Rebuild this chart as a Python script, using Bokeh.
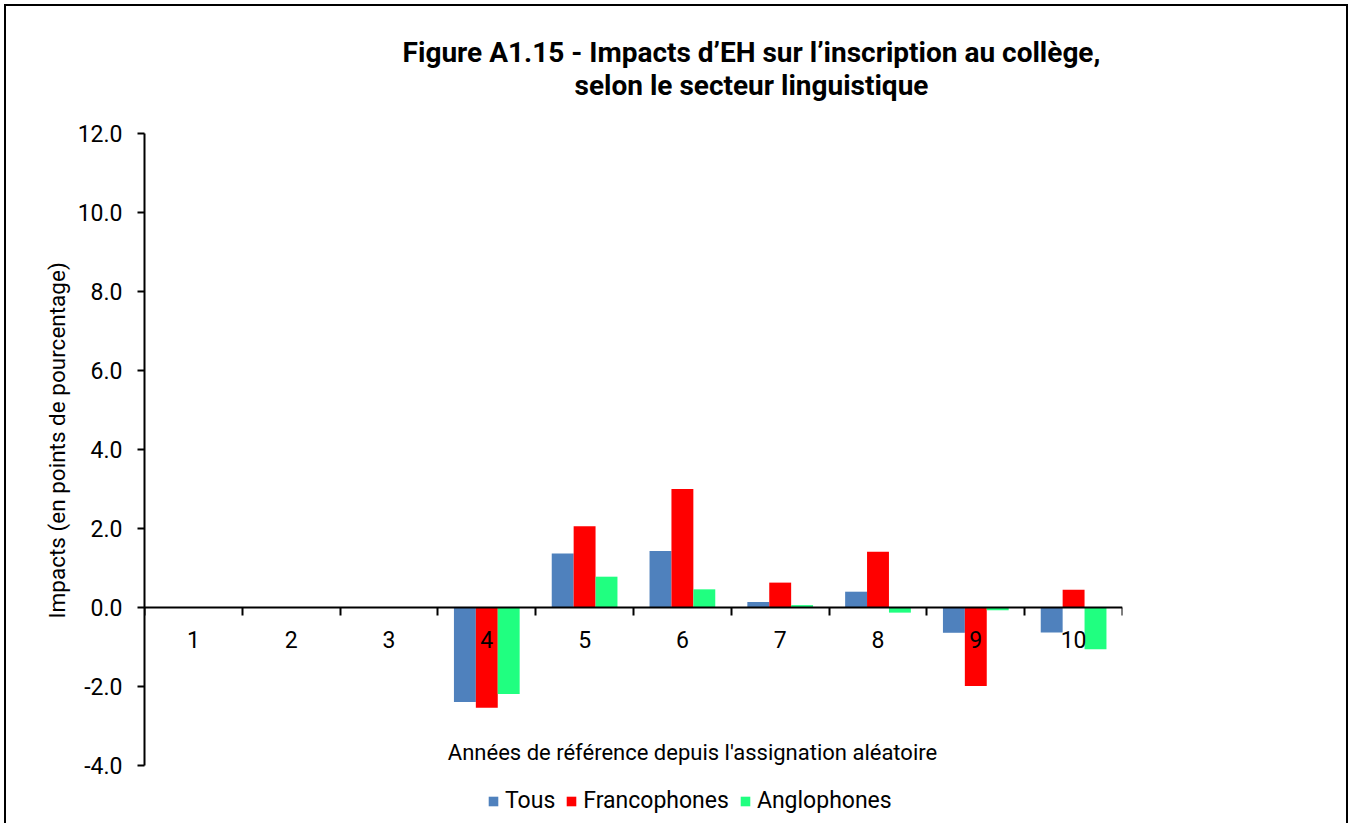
import numpy as np
from bokeh.plotting import figure
from bokeh.models import (Range1d, FixedTicker, Label, Legend, LegendItem, Title,
                          NumeralTickFormatter, ColumnDataSource)
from bokeh.transform import dodge
from bokeh.embed import file_html
from bokeh.resources import INLINE

# ---- data ----
years = [1, 2, 3, 4, 5, 6, 7, 8, 9, 10]
tous = [None, None, None, -2.39, 1.37, 1.43, 0.14, 0.40, -0.64, -0.63]
francophones = [None, None, None, -2.54, 2.06, 3.00, 0.63, 1.41, -1.99, 0.45]
anglophones = [None, None, None, -2.19, 0.78, 0.46, 0.06, -0.13, -0.07, -1.06]
series_names = ["Tous", "Francophones", "Anglophones"]
y_ticks = [-4, -2, 0, 2, 4, 6, 8, 10, 12]
y_min, y_max = -4, 12
title_lines = ["Figure A1.15 - Impacts d\u2019EH sur l\u2019inscription au coll\u00e8ge,",
               "selon le secteur linguistique"]
x_title = "Ann\u00e9es de r\u00e9f\u00e9rence depuis l'assignation al\u00e9atoire"
y_title = "Impacts (en points de pourcentage)"

# ---- style / layout ----
colors = ["#4F81BD", "#FF0000", "#20FF80"]
FONT = "Roboto"
W, H = 1344, 819
LEFT, TOP = 6, 6                 # page offset of the figure content
AX_TOP, AX_BOT = 133, 765        # page y of y_max / y_min
AX_LEFT, AX_RIGHT = 144, 1122    # page x of the category axis ends
ppu = (AX_BOT - AX_TOP) / (y_max - y_min)
y_hi = y_max + (AX_TOP - TOP) / ppu
y_lo = y_min - (TOP + H - AX_BOT) / ppu
FB = TOP + H                     # page y of frame bottom


def arr(v):
    return np.array([np.nan if x is None else x for x in v], dtype=float)


src = ColumnDataSource(dict(year=years, Tous=arr(tous),
                            Francophones=arr(francophones),
                            Anglophones=arr(anglophones)))

p = figure(width=W, height=H, x_range=Range1d(0.5, 10.5),
           y_range=Range1d(y_lo, y_hi), output_backend="svg", title=None,
           toolbar_location=None, min_border_left=AX_LEFT - LEFT, min_border_top=0,
           min_border_right=LEFT + W - AX_RIGHT, min_border_bottom=0,
           outline_line_color=None, background_fill_color="white",
           border_fill_color="white",
           styles={"border": "2px solid #000", "border-bottom": "none",
                   "margin-left": "4px", "margin-top": "4px"})

bw = 0.224
offsets = [-bw, 0.0, bw]
renderers = []
for name, col, off in zip(series_names, colors, offsets):
    r = p.vbar(x=dodge("year", off, range=p.x_range), top=name, bottom=0,
               width=bw, source=src, fill_color=col, line_color=None)
    renderers.append(r)

p.xgrid.visible = False
p.ygrid.visible = False

# y axis
ya = p.yaxis[0]
ya.bounds = (y_min, y_max)
ya.ticker = FixedTicker(ticks=y_ticks)
ya.formatter = NumeralTickFormatter(format="0.0")
ya.major_tick_in = 0
ya.major_tick_out = 7
ya.minor_tick_in = 0
ya.minor_tick_out = 0
ya.axis_line_width = 2
ya.major_tick_line_width = 2
ya.major_label_standoff = 15
ya.major_label_text_font = FONT
ya.major_label_text_font_size = "23px"
ya.major_label_text_color = "#000000"

# y axis title, placed along the axis extent (not the whole frame)
p.add_layout(Title(text=y_title, align="left", offset=FB - 618, standoff=10,
                   text_font=FONT, text_font_size="22.5px", text_font_style="normal",
                   text_color="#000000"), "left")

# x axis at zero
xa = p.xaxis[0]
xa.fixed_location = 0
xa.ticker = FixedTicker(ticks=years, minor_ticks=[y - 0.5 for y in years] + [years[-1] + 0.5])
xa.major_tick_in = 0
xa.major_tick_out = 0
xa.minor_tick_in = 0
xa.minor_tick_out = 8
xa.minor_tick_line_width = 2
xa.minor_tick_line_color = "#000000"
xa.axis_line_width = 2
xa.major_label_standoff = 15
xa.major_label_text_font = FONT
xa.major_label_text_font_size = "23px"
xa.major_label_text_color = "#000000"

# titles
for txt, py in zip(title_lines, [52, 85]):
    p.add_layout(Label(x=751 - AX_LEFT, y=FB - py, x_units="screen", y_units="screen",
                       text=txt, text_align="center", text_baseline="middle",
                       text_font=FONT, text_font_size="28px", text_font_style="bold",
                       text_color="#000000"))
p.add_layout(Label(x=692 - AX_LEFT, y=FB - 752, x_units="screen", y_units="screen",
                   text=x_title, text_align="center", text_baseline="middle",
                   text_font=FONT, text_font_size="22px", text_color="#000000"))

legend = Legend(items=[LegendItem(label=n, renderers=[r]) for n, r in zip(series_names, renderers)],
                orientation="horizontal", location=(487 - AX_LEFT, FB - 814),
                glyph_width=12, glyph_height=12, label_standoff=6, spacing=10,
                padding=0, margin=0, border_line_color=None,
                background_fill_alpha=0, label_text_font=FONT,
                label_text_font_size="23px", label_text_color="#000000")
p.add_layout(legend)

open("out.html", "w").write(file_html(p, INLINE))
